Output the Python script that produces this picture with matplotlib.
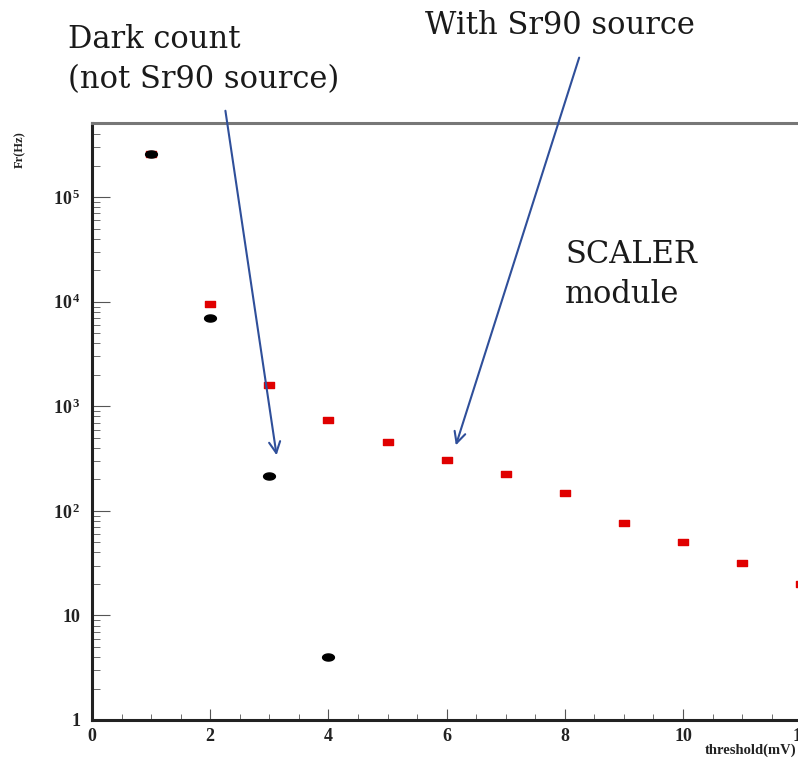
import numpy as np
import matplotlib
matplotlib.use("Agg")
import matplotlib.pyplot as plt
from matplotlib.path import Path
from matplotlib.ticker import FixedLocator, MultipleLocator, LogLocator, NullFormatter

# threshold scan, SCALER module
thr_dark = [1, 2, 3, 4]
rate_dark = [2.6e5, 7000, 215, 4.0]

thr_src = [1, 2, 3, 4, 5, 6, 7, 8, 9, 10, 11, 12]
rate_src = [2.6e5, 9500, 1600, 740, 455, 307, 225, 148, 77, 50, 32, 20]

ytick_vals = [1, 10, 100, 1000, 1e4, 1e5]
ytick_labels = ["1", "10", "10$^{\\,2}$", "10$^{\\,3}$", "10$^{\\,4}$", "10$^{\\,5}$"]
xtick_vals = [0, 2, 4, 6, 8, 10, 12]

plt.rcParams["mathtext.fontset"] = "custom"
plt.rcParams["mathtext.rm"] = "Liberation Serif:bold"
plt.rcParams["mathtext.it"] = "Liberation Serif:bold"

# marker shapes: flat ellipse and flat box
t = np.linspace(0, 2 * np.pi, 40)
ellipse = Path(np.column_stack([np.cos(t), 0.6 * np.sin(t)]), closed=True)
box = Path([(-1, -0.65), (1, -0.65), (1, 0.65), (-1, 0.65), (-1, -0.65)], closed=True)

fig = plt.figure(figsize=(7.98, 7.61), dpi=100)
W, H = 798, 761
ax = fig.add_axes([92 / W, 41 / H, 59.1 * 13 / W, 597 / H])

ax.plot(thr_src, rate_src, ls="none", marker=box, ms=7.5, color="#e00000", mec="#e00000", zorder=3)
ax.plot(thr_dark, rate_dark, ls="none", marker=ellipse, ms=8.5, color="black", zorder=4)

ax.set_yscale("log")
ax.set_xlim(0, 13)
ax.set_ylim(1, 10 ** 5.71)

ax.yaxis.set_major_locator(FixedLocator(ytick_vals))
ax.set_yticklabels(ytick_labels)
ax.yaxis.set_minor_locator(LogLocator(base=10, subs=np.arange(2, 10)))
ax.yaxis.set_minor_formatter(NullFormatter())
ax.xaxis.set_major_locator(FixedLocator(xtick_vals))
ax.xaxis.set_minor_locator(MultipleLocator(0.5))

ax.tick_params(axis="both", which="both", direction="in", colors="#555555", labelcolor="#222222")
ax.tick_params(axis="y", which="major", length=13, pad=8)
ax.tick_params(axis="y", which="minor", length=6)
ax.tick_params(axis="x", which="major", length=8, pad=6)
ax.tick_params(axis="x", which="minor", length=4)
ax.tick_params(right=False, top=False)
for lab in ax.get_xticklabels() + ax.get_yticklabels():
    lab.set_fontfamily("Liberation Serif")
    lab.set_fontweight("bold")
    lab.set_fontsize(13)

for s in ["left", "bottom"]:
    ax.spines[s].set_linewidth(2.2)
    ax.spines[s].set_color("#222222")
ax.spines["top"].set_linewidth(2.2)
ax.spines["top"].set_color("#777777")
ax.spines["right"].set_visible(False)

fig.text(20 / W, 1 - 150 / H, "Fr(Hz)", rotation=90, ha="center", va="center",
         family="Liberation Serif", weight="bold", fontsize=9, color="#222222")
fig.text(796 / W, 1 - 750 / H, "threshold(mV)", ha="right", va="center",
         family="Liberation Serif", weight="bold", fontsize=10.5, color="#222222")

# annotations
txt = dict(family="DejaVu Serif", fontsize=22, color="#1a1a1a")
fig.text(68 / W, 1 - 40 / H, "Dark count", ha="left", va="center", **txt)
fig.text(68 / W, 1 - 80 / H, "(not Sr90 source)", ha="left", va="center", **txt)
fig.text(425 / W, 1 - 25 / H, "With Sr90 source", ha="left", va="center", **txt)
fig.text(565 / W, 1 - 255 / H, "SCALER", ha="left", va="center", **txt)
fig.text(565 / W, 1 - 295 / H, "module", ha="left", va="center", **txt)

arrow = dict(arrowstyle="->,head_length=0.8,head_width=0.4", color="#2f4f9a", lw=1.5)
ax.annotate("", xy=(277 / W, 1 - 458 / H), xycoords="figure fraction",
            xytext=(225 / W, 1 - 108 / H), textcoords="figure fraction", arrowprops=arrow)
ax.annotate("", xy=(455 / W, 1 - 448 / H), xycoords="figure fraction",
            xytext=(580 / W, 1 - 55 / H), textcoords="figure fraction", arrowprops=arrow)

fig.savefig("out.png", dpi=100)
